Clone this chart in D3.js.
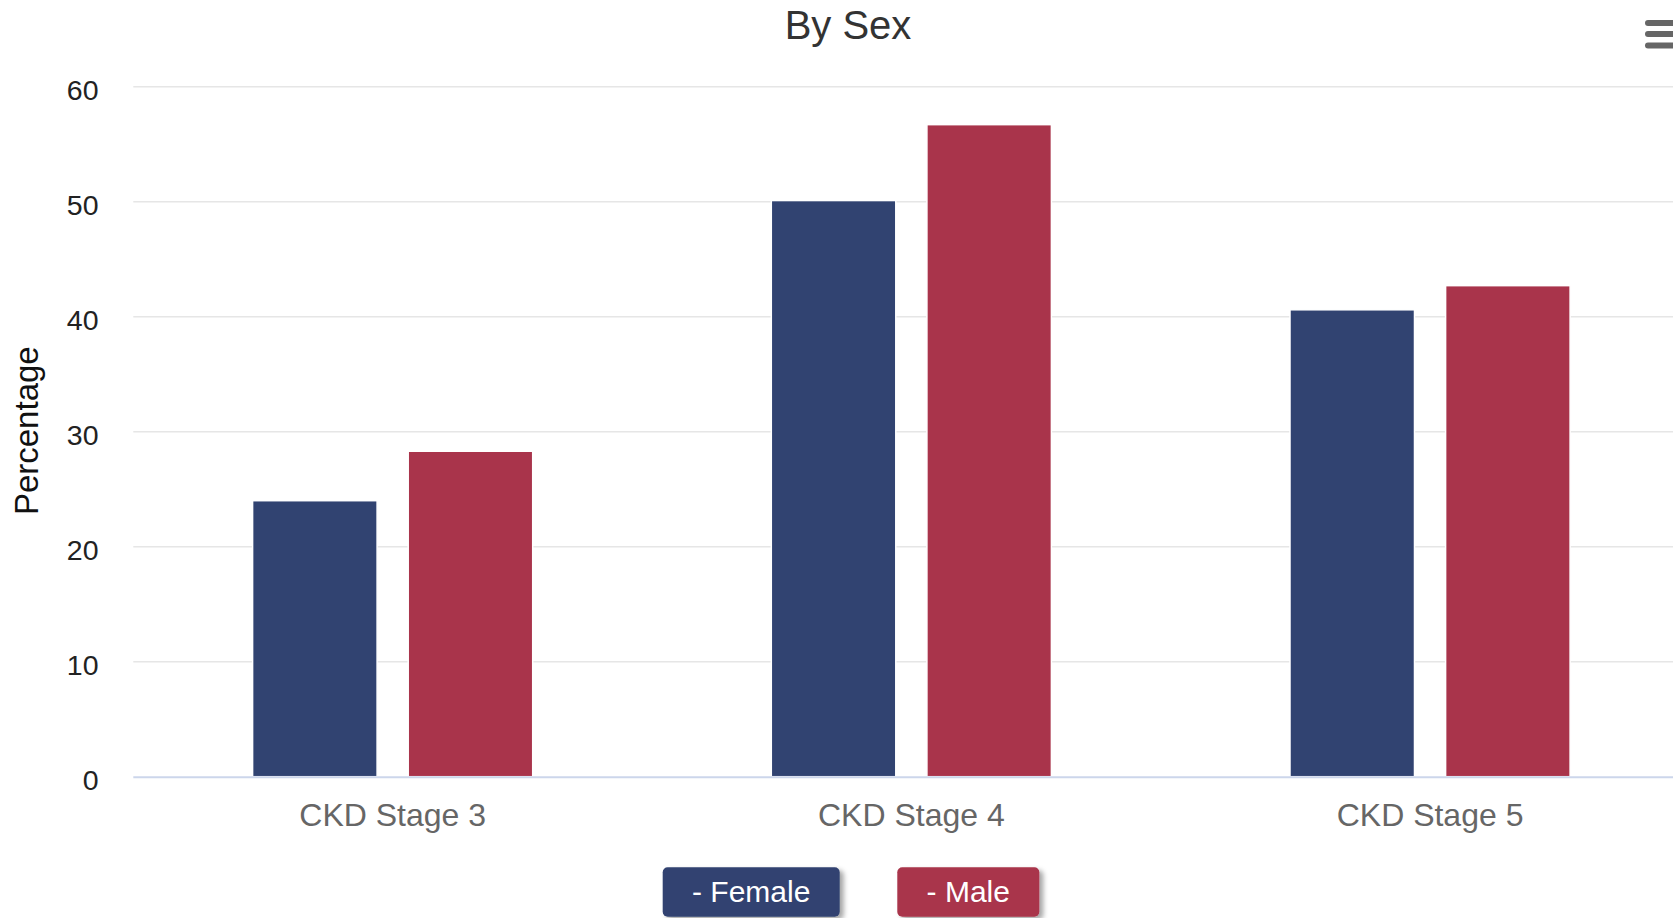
<!DOCTYPE html>
<html>
<head>
<meta charset="utf-8">
<script src="https://cdn.jsdelivr.net/npm/d3@7"></script>
<style>
  html, body { margin: 0; padding: 0; background: #fff; overflow: hidden; }
  svg { display: block; font-family: "Liberation Sans", Arial, Helvetica, sans-serif; }
</style>
</head>
<body>
<svg id="chart" width="1673" height="918"></svg>
<script>
const categories = ["CKD Stage 3", "CKD Stage 4", "CKD Stage 5"];
const seriesNames = ["Female", "Male"];
const femaleValues = [24.0, 50.1, 40.6];
const maleValues = [28.3, 56.7, 42.7];
const yTicks = [0, 10, 20, 30, 40, 50, 60];
const colors = ["#314371", "#a9344b"];

const seriesValues = [femaleValues, maleValues];
const data = categories.map((c, i) => ({
  category: c,
  values: seriesNames.map((s, j) => ({ series: s, value: seriesValues[j][i] }))
}));

const svg = d3.select("#chart");
const plotLeft = 133.3, plotRight = 1689.4, plotTop = 86.7, plotBottom = 776.7;

const x0 = d3.scaleBand().domain(categories).range([plotLeft, plotRight]).padding(0);
const x1 = d3.scaleBand().domain(seriesNames)
  .range([x0.bandwidth() * 0.2, x0.bandwidth() * 0.8])
  .paddingInner(0.2).paddingOuter(0.1);
const y = d3.scaleLinear().domain([0, 60]).range([plotBottom, plotTop]);
const color = d3.scaleOrdinal().domain(seriesNames).range(colors);

// Title
svg.append("text")
  .attr("x", 848).attr("y", 39)
  .attr("text-anchor", "middle")
  .attr("font-size", 40)
  .attr("fill", "#333333")
  .text("By Sex");

// Menu icon
const menu = svg.append("g").attr("stroke", "#666666").attr("stroke-width", 6).attr("stroke-linecap", "round");
[23, 34, 45.5].forEach(yy => {
  menu.append("line").attr("x1", 1648).attr("x2", 1680).attr("y1", yy).attr("y2", yy);
});

// Gridlines
svg.append("g")
  .selectAll("line")
  .data(yTicks.filter(t => t !== 0))
  .join("line")
  .attr("x1", plotLeft).attr("x2", plotRight)
  .attr("y1", d => y(d)).attr("y2", d => y(d))
  .attr("stroke", "#e6e6e6").attr("stroke-width", 1.5);

// Y axis labels
const yAxis = d3.axisLeft(y).tickValues(yTicks).tickSize(0).tickPadding(0);
const yg = svg.append("g").attr("transform", `translate(98.5,4)`).call(yAxis);
yg.select(".domain").remove();
yg.selectAll("text").attr("font-size", 28.5).attr("fill", "#222222")
  .attr("font-family", "Liberation Sans, Arial, sans-serif");

// Y axis title
svg.append("text")
  .attr("transform", `translate(38,${(plotTop + plotBottom) / 2 - 1}) rotate(-90)`)
  .attr("text-anchor", "middle")
  .attr("font-size", 33)
  .attr("fill", "#111111")
  .text("Percentage");

// Bars
const groups = svg.append("g").selectAll("g")
  .data(data).join("g")
  .attr("transform", d => `translate(${x0(d.category)},0)`);
groups.selectAll("rect")
  .data(d => d.values).join("rect")
  .attr("x", d => x1(d.series))
  .attr("width", x1.bandwidth())
  .attr("y", d => y(d.value))
  .attr("height", d => y(0) - y(d.value))
  .attr("fill", d => color(d.series))
  .attr("stroke", "#ffffff").attr("stroke-width", 1.5);

// X axis line
svg.append("line")
  .attr("x1", plotLeft).attr("x2", plotRight)
  .attr("y1", y(0) + 0.5).attr("y2", y(0) + 0.5)
  .attr("stroke", "#ccd6eb").attr("stroke-width", 2);

// X axis labels
const xAxis = d3.axisBottom(x0).tickSize(0).tickPadding(0);
const xg = svg.append("g").attr("transform", `translate(0,${plotBottom + 49})`).call(xAxis);
xg.select(".domain").remove();
xg.selectAll("text").attr("font-size", 32).attr("fill", "#666666")
  .attr("dy", 0).attr("font-family", "Liberation Sans, Arial, sans-serif");

// Legend
const defs = svg.append("defs");
const f = defs.append("filter").attr("id", "shadow").attr("x", "-20%").attr("y", "-30%").attr("width", "150%").attr("height", "180%");
f.append("feDropShadow").attr("dx", 4).attr("dy", 3).attr("stdDeviation", 2.5)
  .attr("flood-color", "#000").attr("flood-opacity", 0.35);

const legendItems = [
  { name: seriesNames[0], x: 662.7, w: 177 },
  { name: seriesNames[1], x: 897.3, w: 142 }
];
const lg = svg.append("g").selectAll("g").data(legendItems).join("g");
lg.append("rect")
  .attr("x", d => d.x).attr("y", 867.3)
  .attr("width", d => d.w).attr("height", 49.4)
  .attr("rx", 5).attr("ry", 5)
  .attr("fill", d => color(d.name))
  .attr("filter", "url(#shadow)");
lg.append("text")
  .attr("x", d => d.x + d.w / 2).attr("y", 902)
  .attr("text-anchor", "middle")
  .attr("font-size", 30)
  .attr("fill", "#ffffff")
  .text(d => "- " + d.name);
</script>
</body>
</html>
